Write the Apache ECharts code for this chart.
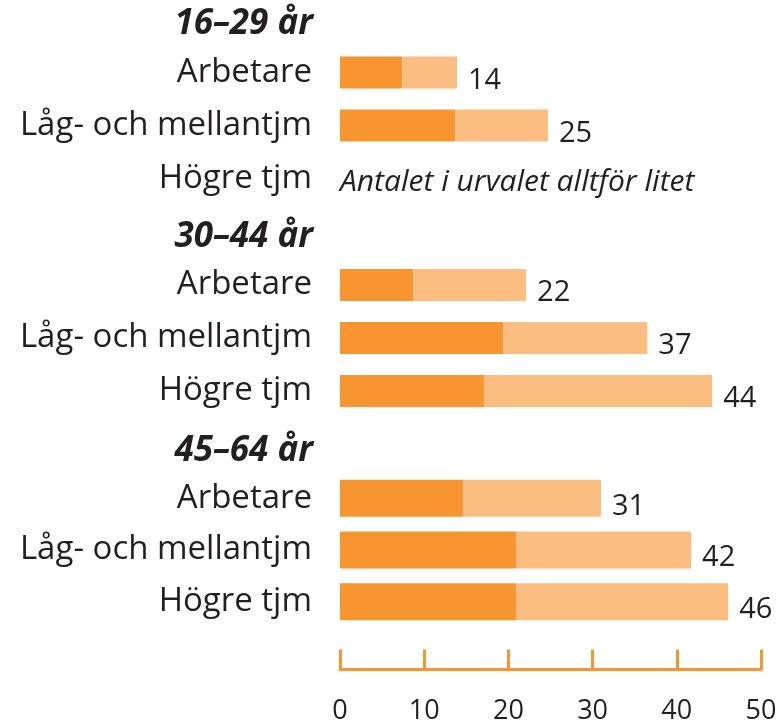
<!DOCTYPE html>
<html>
<head>
<meta charset="utf-8">
<script src="https://cdn.jsdelivr.net/npm/echarts@6/dist/echarts.min.js"></script>
<style>
  body { margin: 0; background: #fff; }
  #chart { width: 780px; height: 725px; }
</style>
</head>
<body>
<div id="chart"></div>
<script>
// åldersgrupper och yrkesgrupper
var groups = ['16–29 år', '30–44 år', '45–64 år'];
var categories = ['Arbetare', 'Låg- och mellantjm', 'Högre tjm'];

// mörk del / ljus del, en rad per kategori (null = för litet urval)
var darkValues = [7.4, 13.7, null, 8.7, 19.4, 17.1, 14.6, 20.9, 20.9];
var lightValues = [6.5, 11.0, null, 13.4, 17.1, 27.1, 16.4, 20.8, 25.2];
var totals = [14, 25, null, 22, 37, 44, 31, 42, 46];
var note = 'Antalet i urvalet alltför litet';

var xTicks = [0, 10, 20, 30, 40, 50];

var dark = '#F79530';
var light = '#FBBE80';
var textColor = '#231F20';
var font = 'Open Sans';

var chart = echarts.init(document.getElementById('chart'));

var gridTops = [46, 258.5, 472.5];
var gridHeights = [159, 159, 155];
var barWidths = [32, 32, 37];

var grid = [], xAxis = [], yAxis = [], series = [];

for (var g = 0; g < groups.length; g++) {
  grid.push({ left: 340, right: 19, top: gridTops[g], height: gridHeights[g] });

  var last = g === groups.length - 1;
  xAxis.push({
    gridIndex: g,
    type: 'value',
    min: xTicks[0],
    max: xTicks[xTicks.length - 1],
    interval: 10,
    show: last,
    offset: 42,
    axisLine: { show: true, lineStyle: { color: dark, width: 3 } },
    axisTick: { show: true, inside: true, length: 20, lineStyle: { color: dark, width: 3 } },
    axisLabel: { color: textColor, fontSize: 27, fontFamily: font, margin: 28 },
    splitLine: { show: false }
  });

  yAxis.push({
    gridIndex: g,
    type: 'category',
    inverse: true,
    data: categories,
    name: groups[g],
    nameLocation: 'start',
    nameGap: 4,
    nameTextStyle: {
      color: textColor, fontSize: 35, fontFamily: font,
      fontWeight: 'bold', fontStyle: 'italic', align: 'right', padding: [0, 27, 0, 0]
    },
    axisLine: { show: false },
    axisTick: { show: false },
    axisLabel: { color: textColor, fontSize: 33, fontFamily: font, margin: 28 }
  });

  var darkData = [], lightData = [];
  for (var i = 0; i < categories.length; i++) {
    var k = g * categories.length + i;
    if (darkValues[k] == null) {
      darkData.push({
        value: 0,
        label: {
          show: true, position: 'right', distance: 0, formatter: note, offset: [0, 4],
          color: textColor, fontSize: 30, fontFamily: font, fontStyle: 'italic'
        }
      });
      lightData.push('-');
    } else {
      darkData.push(darkValues[k]);
      lightData.push(lightValues[k]);
    }
  }

  (function (g) {
    series.push({
      type: 'bar', xAxisIndex: g, yAxisIndex: g, stack: 's' + g,
      barWidth: barWidths[g], data: darkData,
      itemStyle: { color: dark }, silent: true
    });
    series.push({
      type: 'bar', xAxisIndex: g, yAxisIndex: g, stack: 's' + g,
      barWidth: barWidths[g], data: lightData,
      itemStyle: { color: light }, silent: true,
      label: {
        show: true, position: 'right', distance: 11, offset: [0, 8],
        color: textColor, fontSize: 29, fontFamily: font,
        formatter: function (p) { return totals[g * categories.length + p.dataIndex]; }
      }
    });
  })(g);
}

chart.setOption({
  animation: false,
  grid: grid,
  xAxis: xAxis,
  yAxis: yAxis,
  series: series
});
</script>
</body>
</html>
